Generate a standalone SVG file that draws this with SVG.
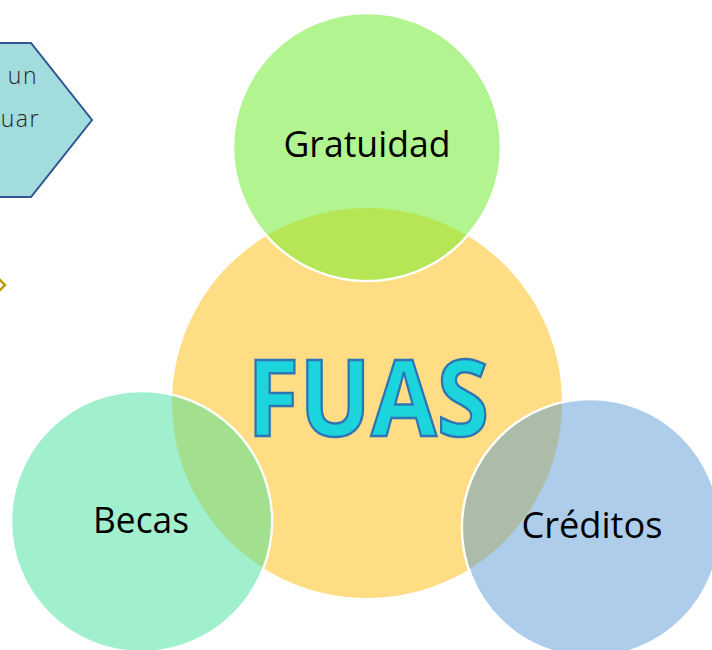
<svg xmlns="http://www.w3.org/2000/svg" width="712" height="650" viewBox="0 0 712 650">
<defs>
<style>
.lbl{font-family:"Open Sans","Liberation Sans",sans-serif;font-size:36px;fill:#000;text-anchor:middle}
.side{font-family:"Open Sans","Liberation Sans",sans-serif;font-weight:300;font-size:23px;fill:#262626;text-anchor:end;letter-spacing:1.5px}
.outer{stroke:#fff;stroke-width:2.5}
</style>
<clipPath id="cY"><circle cx="367" cy="403" r="195"/></clipPath>
</defs>
<rect width="712" height="650" fill="#fff"/>
<g id="side-shape">
<path d="M -10 43 L 31 43 L 92 120 L 31 197 L -10 197 Z" fill="#a3dcdc" stroke="#2f5597" stroke-width="2"/>
<text class="side" x="38" y="84">un</text>
<text class="side" x="40" y="127">uar</text>
</g>
<g id="side-diamond">
<path d="M -1 279 L 5 285 L -1 291 L -7 285 Z" fill="#fff" stroke="#c49a00" stroke-width="2.5"/>
</g>
<g id="connectors"></g>
<g id="fuas">
<circle cx="367" cy="403" r="195" fill="#fedd85"/>
</g>
<g id="gratuidad">
<circle class="outer" cx="367" cy="147" r="134" fill="#b2f48f"/>
<circle cx="367" cy="147" r="132.8" fill="#b6e655" clip-path="url(#cY)"/>
<text class="lbl" x="367" y="157" textLength="167" lengthAdjust="spacingAndGlyphs">Gratuidad</text>
</g>
<g id="becas">
<circle class="outer" cx="141.5" cy="521.5" r="130.5" fill="#a0f0ce"/>
<circle cx="141.5" cy="521.5" r="129.3" fill="#a2e08f" clip-path="url(#cY)"/>
<text class="lbl" x="141" y="533" textLength="96" lengthAdjust="spacingAndGlyphs">Becas</text>
</g>
<g id="creditos">
<circle class="outer" cx="591" cy="528" r="129" fill="#aecdeb"/>
<circle cx="591" cy="528" r="127.8" fill="#acbca8" clip-path="url(#cY)"/>
<text class="lbl" x="592" y="538" textLength="141" lengthAdjust="spacingAndGlyphs">Créditos</text>
</g>
<g id="fuas-title">
<text x="368" y="436" font-family="'Open Sans','Liberation Sans',sans-serif" font-weight="700" font-size="106" fill="#1bd4dc" stroke="#2e75b6" stroke-width="2.5" text-anchor="middle" textLength="242" lengthAdjust="spacingAndGlyphs">FUAS</text>
</g>
</svg>
